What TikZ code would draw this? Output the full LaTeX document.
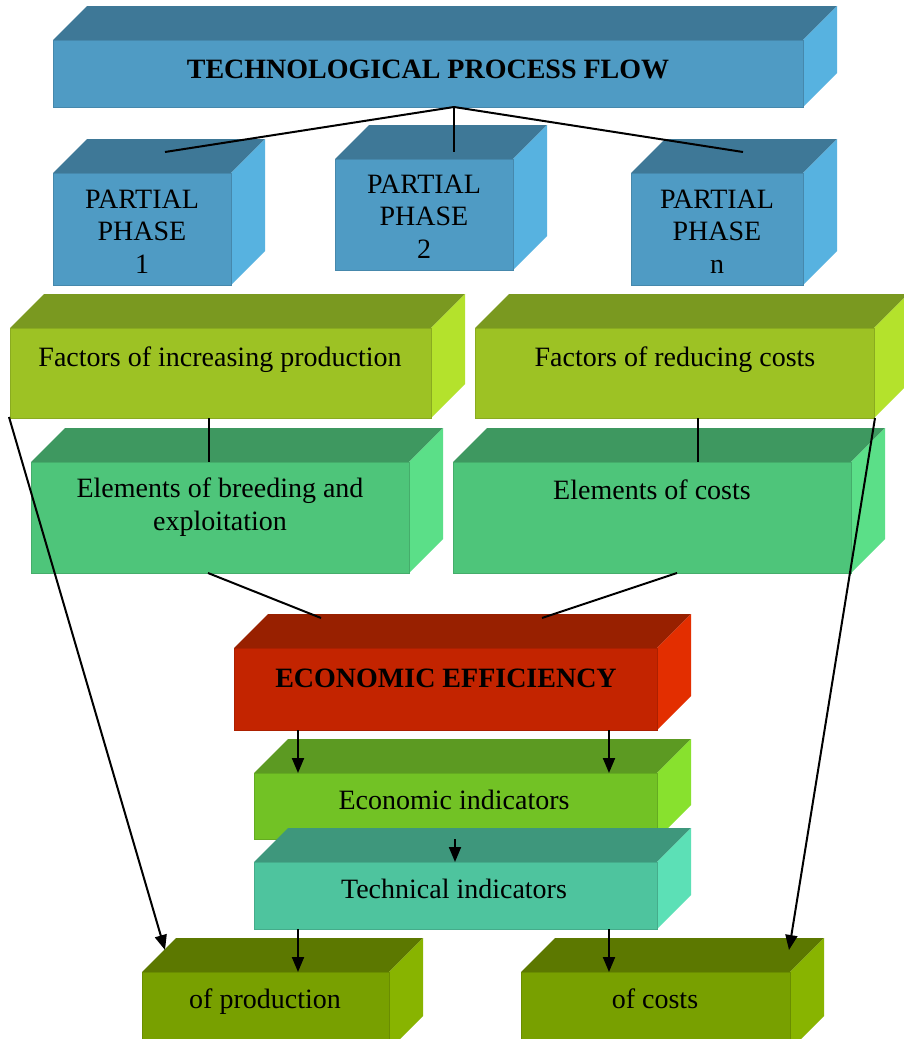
\documentclass[tikz,border=0pt]{standalone}
\usepackage{fontspec}
\setmainfont{Liberation Serif}
\usetikzlibrary{arrows.meta}
\definecolor{blueF}{HTML}{4F9BC4}
\definecolor{blueT}{HTML}{3E7897}
\definecolor{blueS}{HTML}{57B2E0}
\definecolor{facF}{HTML}{9DC224}
\definecolor{facT}{HTML}{7A9920}
\definecolor{facS}{HTML}{B4E22C}
\definecolor{elF}{HTML}{4EC57A}
\definecolor{elT}{HTML}{3E9860}
\definecolor{elS}{HTML}{5BDF88}
\definecolor{redF}{HTML}{C32400}
\definecolor{redT}{HTML}{982000}
\definecolor{redS}{HTML}{E32E00}
\definecolor{indF}{HTML}{72C225}
\definecolor{indT}{HTML}{5C9A22}
\definecolor{indS}{HTML}{88E12E}
\definecolor{tecF}{HTML}{4EC49E}
\definecolor{tecT}{HTML}{3E977C}
\definecolor{tecS}{HTML}{5CE0B6}
\definecolor{outF}{HTML}{78A000}
\definecolor{outT}{HTML}{5C7800}
\definecolor{outS}{HTML}{88B400}
\tikzset{
  face/.style={rectangle, inner sep=0pt, outer sep=0pt, line width=0.6pt},
  txt/.style={font=\fontsize{28}{32.5}\selectfont, inner sep=0pt, anchor=base, align=center},
  btxt/.style={txt, font=\fontsize{28}{32.5}\selectfont\bfseries},
  conn/.style={line width=2pt, black},
  arr/.style={conn, -{Triangle[length=15pt,width=12pt]}}
}
\newcommand\drawcube[8]{%
  \fill[#7] (#2,#3) -- ({#2+34},{#3-34}) -- ({#4+34},{#3-34}) -- (#4,#3) -- cycle;
  \fill[#8] (#4,#3) -- ({#4+34},{#3-34}) -- ({#4+34},{#5-34}) -- (#4,#5) -- cycle;
  \node[face, fill=#6, draw=#6!88!black, minimum width={(#4-#2)*1pt}, minimum height={(#5-#3)*1pt}] (#1) at ({(#2+#4)/2},{(#3+#5)/2}) {};
}
\begin{document}
\begin{tikzpicture}[x=1pt, y=-1pt]
\fill[white] (0,0) rectangle (903,1039);
\useasboundingbox (0,0) rectangle (903,1039);
% boxes
\drawcube{title}{53}{40}{803}{107}{blueF}{blueT}{blueS}
\drawcube{ph1}{53}{173}{231}{285}{blueF}{blueT}{blueS}
\drawcube{ph2}{335}{159}{513}{270}{blueF}{blueT}{blueS}
\drawcube{phn}{631}{173}{803}{285}{blueF}{blueT}{blueS}
\drawcube{fac1}{10}{328}{431}{418}{facF}{facT}{facS}
\drawcube{fac2}{475}{328}{874}{418}{facF}{facT}{facS}
\drawcube{el1}{31}{462}{409}{573}{elF}{elT}{elS}
\drawcube{el2}{453}{462}{851}{573}{elF}{elT}{elS}
\drawcube{eff}{234}{648}{657}{730}{redF}{redT}{redS}
\drawcube{ind1}{254}{773}{657}{839}{indF}{indT}{indS}
\drawcube{ind2}{254}{862}{657}{929}{tecF}{tecT}{tecS}
\drawcube{out1}{142}{972}{389}{1050}{outF}{outT}{outS}
\drawcube{out2}{521}{972}{790}{1050}{outF}{outT}{outS}
% texts (multi-line nodes: base = baseline of last line)
\node[btxt] (title-t) at (428,78) {TECHNOLOGICAL PROCESS FLOW};
\node[txt] (ph1-t) at (142,273) {PARTIAL\\PHASE\\1};
\node[txt] (ph2-t) at (424,258) {PARTIAL\\PHASE\\2};
\node[txt] (phn-t) at (717,273) {PARTIAL\\PHASE\\n};
\node[txt] (fac1-t) at (220,366) {Factors of increasing production};
\node[txt] (fac2-t) at (675,366) {Factors of reducing costs};
\node[txt] (el1-t) at (220,530) {Elements of breeding and\\exploitation};
\node[txt] (el2-t) at (652,499) {Elements of costs};
\node[btxt] (eff-t) at (446,687) {ECONOMIC EFFICIENCY};
\node[txt] (ind1-t) at (454,809) {Economic indicators};
\node[txt] (ind2-t) at (454,898) {Technical indicators};
\node[txt] (out1-t) at (265,1008) {of production};
\node[txt] (out2-t) at (655,1008) {of costs};
% connector end points
\coordinate (tB) at (454,107);
\coordinate (ph1T) at (165,152);
\coordinate (ph2T) at (454,152);
\coordinate (phnT) at (743,152);
\coordinate (fac1B) at (209,418);
\coordinate (el1T) at (209,462);
\coordinate (fac2B) at (698,418);
\coordinate (el2T) at (698,462);
\coordinate (el1B) at (208,573);
\coordinate (el2B) at (677,573);
\coordinate (effTL) at (321,618);
\coordinate (effTR) at (542,618);
\coordinate (fac1C) at (9,417);
\coordinate (out1T) at (165,950);
\coordinate (fac2C) at (875,418);
\coordinate (out2T) at (789,950);
\coordinate (effB1) at (298,730);
\coordinate (effB2) at (609,730);
\coordinate (ind1T1) at (298,773);
\coordinate (ind1T2) at (609,773);
\coordinate (ind1B) at (455,839);
\coordinate (ind2T) at (455,862);
\coordinate (ind2B1) at (298,929);
\coordinate (ind2B2) at (609,929);
\coordinate (out1F) at (298,972);
\coordinate (out2F) at (609,972);
% connectors
\draw[conn] (tB) -- (ph1T);
\draw[conn] (tB) -- (ph2T);
\draw[conn] (tB) -- (phnT);
\draw[conn] (fac1B) -- (el1T);
\draw[conn] (fac2B) -- (el2T);
\draw[conn] (el1B) -- (effTL);
\draw[conn] (el2B) -- (effTR);
\draw[arr] (fac1C) -- (out1T);
\draw[arr] (fac2C) -- (out2T);
\draw[arr] (effB1) -- (ind1T1);
\draw[arr] (effB2) -- (ind1T2);
\draw[arr] (ind1B) -- (ind2T);
\draw[arr] (ind2B1) -- (out1F);
\draw[arr] (ind2B2) -- (out2F);
\end{tikzpicture}
\end{document}
